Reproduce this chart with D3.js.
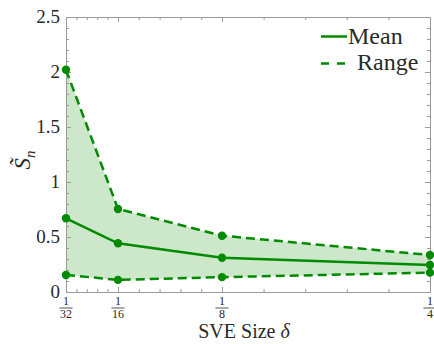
<html>
<head>
<meta charset="utf-8">
<script src="https://cdn.jsdelivr.net/npm/d3@7"></script>
</head>
<body style="margin:0">
<svg width="434" height="344"></svg>
<script>
// ### data ###
var sizes = [1/32, 1/16, 1/8, 1/4];
var meanVals = [0.67, 0.443, 0.312, 0.245];
var upperVals = [2.02, 0.755, 0.512, 0.336];
var lowerVals = [0.155, 0.11, 0.135, 0.176];

var xTicks = [1/32, 1/16, 1/8, 1/4];
var xTickDen = ['32', '16', '8', '4'];
var xMinor = [0.0375, 0.04375, 0.05, 0.05625, 0.075, 0.0875, 0.1, 0.1125, 0.15, 0.175, 0.2, 0.225];
var yTicks = [0, 0.5, 1, 1.5, 2, 2.5];
var yTickLabels = ['0', '0.5', '1', '1.5', '2', '2.5'];
var yMinor = d3.range(1, 25).filter(d => d % 5 != 0).map(d => d / 10);

// ### canvas ###
var margin = {top: 17, right: 4, bottom: 52, left: 66};
var width = 434 - margin.left - margin.right;
var height = 344 - margin.top - margin.bottom;
var green = '#008a00';
var frame = '#9a9a9a';
var ink = '#2a2a2a';

var svg = d3.select('svg');
var g = svg.append('g').attr('transform', `translate(${margin.left},${margin.top})`);

var xScale = d3.scaleLinear().domain([1/32, 1/4]).range([0, width]);
var yScale = d3.scaleLinear().domain([0, 2.5]).range([height, 0]);

// little helper so every label gets the same serif face
function label(sel, size) {
  return sel.append('text')
    .attr('font-size', size)
    .attr('fill', ink)
    .style('font-family', d => '"Liberation Serif"');
}

// ### band ###
var band = d3.area()
  .x((d, i) => xScale(sizes[i]))
  .y0((d, i) => yScale(lowerVals[i]))
  .y1(d => yScale(d));
g.append('path')
  .attr('d', band(upperVals))
  .attr('fill', '#cde7cb');

// ### frame + ticks ###
function axisStyle(sel) {
  sel.select('.domain').attr('stroke', frame);
  sel.selectAll('.tick line').attr('stroke', frame);
  sel.selectAll('.tick text').remove();
}
[[xTicks, 5], [xMinor, 3]].forEach(function(t) {
  g.append('g').attr('transform', `translate(0,${height})`)
    .call(d3.axisBottom(xScale).tickValues(t[0]).tickSize(-t[1]).tickSizeOuter(0).tickFormat(''))
    .call(axisStyle);
  g.append('g')
    .call(d3.axisTop(xScale).tickValues(t[0]).tickSize(-t[1]).tickSizeOuter(0).tickFormat(''))
    .call(axisStyle);
});
[[yTicks, 5], [yMinor, 3]].forEach(function(t) {
  g.append('g')
    .call(d3.axisLeft(yScale).tickValues(t[0]).tickSize(-t[1]).tickSizeOuter(0).tickFormat(''))
    .call(axisStyle);
  g.append('g').attr('transform', `translate(${width},0)`)
    .call(d3.axisRight(yScale).tickValues(t[0]).tickSize(-t[1]).tickSizeOuter(0).tickFormat(''))
    .call(axisStyle);
});

// y tick labels
yTicks.forEach(function(v, i) {
  label(g, 19)
    .attr('x', -6)
    .attr('y', yScale(v) + 6)
    .attr('text-anchor', 'end')
    .text(yTickLabels[i]);
});

// x tick labels as fractions
xTicks.forEach(function(v, i) {
  var fr = g.append('g').attr('transform', `translate(${xScale(v)},${height})`);
  label(fr, 12).attr('y', 13).attr('text-anchor', 'middle').text('1');
  fr.append('line').attr('x1', -6.5).attr('x2', 6.5).attr('y1', 16).attr('y2', 16)
    .attr('stroke', ink).attr('stroke-width', 0.8);
  label(fr, 12).attr('y', 26).attr('text-anchor', 'middle').text(xTickDen[i]);
});

// ### lines ###
var line = d3.line().x((d, i) => xScale(sizes[i])).y(d => yScale(d));
var series = [[meanVals, null], [upperVals, '9,5'], [lowerVals, '9,5']];
series.forEach(function(s) {
  g.append('path')
    .attr('d', line(s[0]))
    .attr('fill', 'none')
    .attr('stroke', green)
    .attr('stroke-width', 2.5)
    .attr('stroke-dasharray', s[1]);
  g.selectAll(null)
    .data(s[0])
    .enter()
    .append('circle')
    .attr('cx', (d, i) => xScale(sizes[i]))
    .attr('cy', d => yScale(d))
    .attr('r', 4.2)
    .attr('fill', green);
});

// ### legend ###
var leg = svg.append('g');
leg.append('line').attr('x1', 321).attr('x2', 347).attr('y1', 36.5).attr('y2', 36.5)
  .attr('stroke', green).attr('stroke-width', 2.5);
label(leg, 24).attr('x', 348).attr('y', 43.5).text('Mean');
leg.append('line').attr('x1', 321).attr('x2', 347).attr('y1', 63.5).attr('y2', 63.5)
  .attr('stroke', green).attr('stroke-width', 2.5).attr('stroke-dasharray', '8,8');
label(leg, 24).attr('x', 357).attr('y', 70).text('Range');

// ### axis titles ###
var xl = label(svg, 20)
  .attr('x', 244).attr('y', 338)
  .attr('text-anchor', 'middle');
xl.append('tspan').text('SVE Size ');
xl.append('tspan').attr('font-style', 'italic').text('δ');

var yl = label(svg, 23)
  .attr('transform', 'translate(30,160) rotate(-90)')
  .attr('text-anchor', 'middle');
yl.append('tspan').attr('font-style', 'italic').text('S̃');
yl.append('tspan').attr('font-size', 15).attr('font-style', 'italic').attr('dy', 5).text('n');
</script>
</body>
</html>
